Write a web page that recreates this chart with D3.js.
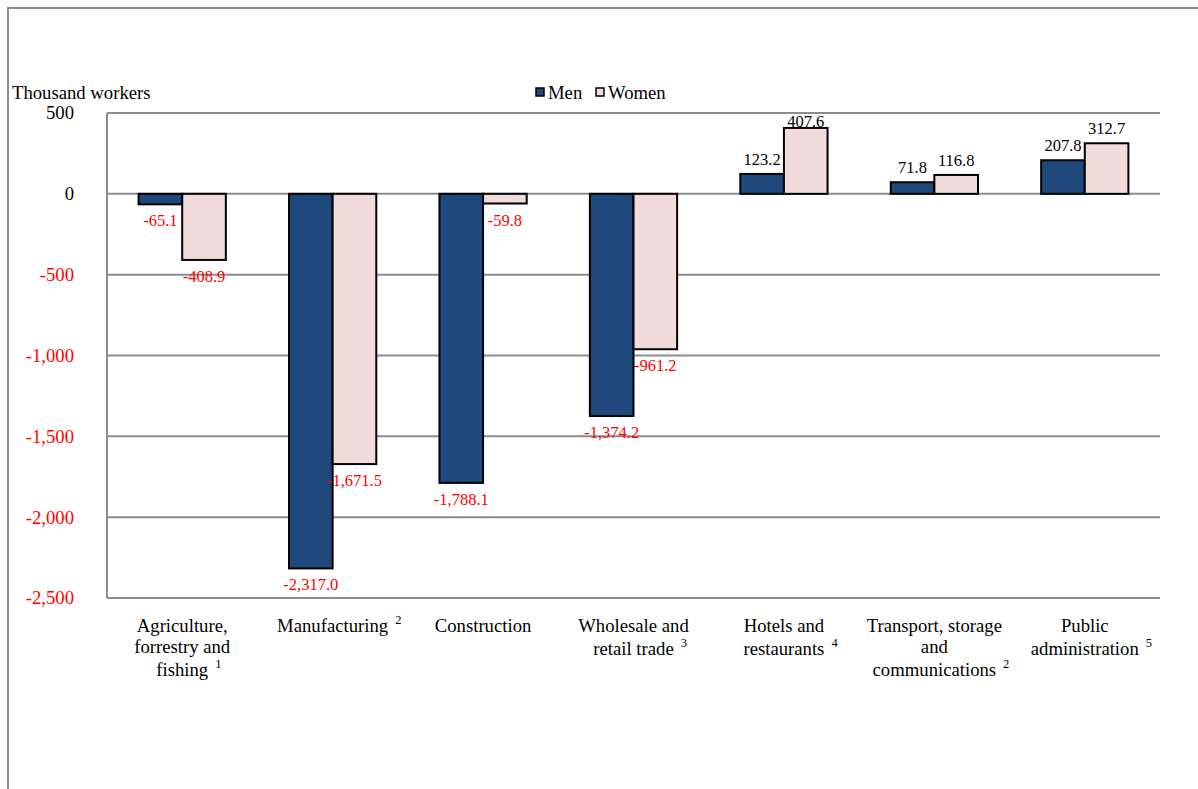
<!DOCTYPE html>
<html>
<head>
<meta charset="utf-8">
<script src="https://cdn.jsdelivr.net/npm/d3@7"></script>
<style>
  html, body { margin: 0; padding: 0; background: #fff; }
  svg { display: block; }
  svg text { font-family: "Liberation Serif", "Times New Roman", serif; }
</style>
</head>
<body>
<svg id="chart" width="1198" height="789"></svg>
<script>
// Change in employment by sector, thousand workers
const categories = [
  "Agriculture, forrestry and fishing",
  "Manufacturing",
  "Construction",
  "Wholesale and retail trade",
  "Hotels and restaurants",
  "Transport, storage and communications",
  "Public administration"
];
const categoryLines = [
  ["Agriculture,", "forrestry and", "fishing"],
  ["Manufacturing"],
  ["Construction"],
  ["Wholesale and", "retail trade"],
  ["Hotels and", "restaurants"],
  ["Transport, storage", "and", "communications"],
  ["Public", "administration"]
];
const footnotes = ["1", "2", "", "3", "4", "2", "5"];
const men = [-65.1, -2317.0, -1788.1, -1374.2, 123.2, 71.8, 207.8];
const women = [-408.9, -1671.5, -59.8, -961.2, 407.6, 116.8, 312.7];
const seriesNames = ["Men", "Women"];
const yTicks = [500, 0, -500, -1000, -1500, -2000, -2500];

const colors = { Men: "#1F497D", Women: "#F2DCDB" };
const gridColor = "#8C8C8C";
const FONT = "Liberation Serif, Times New Roman, serif";

// plain hyphen for negative numbers
const locale = d3.formatLocale({ decimal: ".", thousands: ",", grouping: [3], currency: ["", ""], minus: "-" });
const fmtTick = locale.format(",");
const fmtVal = locale.format(",.1f");

const svg = d3.select("#chart");
const plot = { left: 107, top: 113, right: 1160, bottom: 598 };

// outer frame (top and left edges visible)
svg.append("path")
  .attr("d", "M8,789 L8,8 L1198,8")
  .attr("fill", "none").attr("stroke", gridColor).attr("stroke-width", 2);

const y = d3.scaleLinear().domain([-2500, 500]).range([plot.bottom, plot.top]);
const x0 = d3.scaleBand().domain(categories).range([plot.left, plot.right])
  .paddingInner(0.42).paddingOuter(0.21);
const x1 = d3.scaleBand().domain(seriesNames).range([0, x0.bandwidth()]);

// horizontal gridlines
svg.append("g").selectAll("line").data(yTicks).join("line")
  .attr("x1", plot.left).attr("x2", plot.right)
  .attr("y1", d => y(d)).attr("y2", d => y(d))
  .attr("stroke", gridColor).attr("stroke-width", 2);

// left edge of plot area
svg.append("line")
  .attr("x1", plot.left).attr("x2", plot.left)
  .attr("y1", plot.top).attr("y2", plot.bottom)
  .attr("stroke", gridColor).attr("stroke-width", 2);

// y axis labels
const yAxis = d3.axisLeft(y).tickValues(yTicks).tickFormat(fmtTick).tickSize(0).tickPadding(0);
const yg = svg.append("g").attr("transform", `translate(74,0)`).call(yAxis);
yg.select(".domain").remove();
yg.selectAll("text")
  .attr("font-family", FONT)
  .attr("font-size", 18.7)
  .attr("fill", d => d < 0 ? "#FF0000" : "#000");

// axis title
svg.append("text").attr("x", 12).attr("y", 99)
  .attr("font-family", FONT).attr("font-size", 18.7).attr("fill", "#000").text("Thousand workers");

// bars
const rows = categories.map((c, i) => ({ cat: c, Men: men[i], Women: women[i] }));

const groups = svg.append("g").selectAll("g").data(rows).join("g")
  .attr("transform", d => `translate(${x0(d.cat)},0)`);

const bars = groups.selectAll("g").data(d => seriesNames.map(s => ({ key: s, value: d[s] }))).join("g");

bars.append("rect")
  .attr("x", d => x1(d.key))
  .attr("width", x1.bandwidth())
  .attr("y", d => y(Math.max(0, d.value)))
  .attr("height", d => Math.abs(y(d.value) - y(0)))
  .attr("fill", d => colors[d.key])
  .attr("stroke", "#000").attr("stroke-width", 2);

// value labels
bars.append("text")
  .attr("x", d => x1(d.key) + x1.bandwidth() / 2)
  .attr("y", d => d.value < 0 ? y(d.value) + 22 : Math.max(y(d.value) - 9, plot.top + 14))
  .attr("text-anchor", "middle")
  .attr("font-family", FONT)
  .attr("font-size", 16.5)
  .attr("fill", d => d.value < 0 ? "#FF0000" : "#000")
  .text(d => fmtVal(d.value));

// category labels; footnote markers hang to the right of the centred text
const lineH = 21;
categories.forEach((c, i) => {
  const cx = x0(c) + x0.bandwidth() / 2;
  const lines = categoryLines[i];
  const g = svg.append("g");
  lines.forEach((ln, j) => {
    const isLast = j === lines.length - 1;
    const yy = 632 + j * lineH + (isLast && footnotes[i] && lines.length > 1 ? 2 : 0);
    const t = g.append("text")
      .attr("x", cx).attr("y", yy)
      .attr("text-anchor", "middle")
      .attr("font-family", FONT)
      .attr("font-size", 18.7).attr("fill", "#000")
      .text(ln);
    if (isLast && footnotes[i]) {
      const w = t.node().getComputedTextLength();
      g.append("text")
        .attr("x", cx + w / 2 + 7).attr("y", yy - 8)
        .attr("font-family", FONT)
        .attr("font-size", 12.5).attr("fill", "#000")
        .text(footnotes[i]);
    }
  });
});

// legend
const legend = svg.append("g").attr("transform", "translate(536,88)");
const legendX = [0, 60];
seriesNames.forEach((s, i) => {
  legend.append("rect").attr("x", legendX[i]).attr("y", 0).attr("width", 8).attr("height", 8)
    .attr("fill", colors[s]).attr("stroke", "#000").attr("stroke-width", 1.5);
  legend.append("text").attr("x", legendX[i] + 12).attr("y", 11)
    .attr("font-family", FONT)
    .attr("font-size", 18.7).attr("fill", "#000").text(s);
});
</script>
</body>
</html>
